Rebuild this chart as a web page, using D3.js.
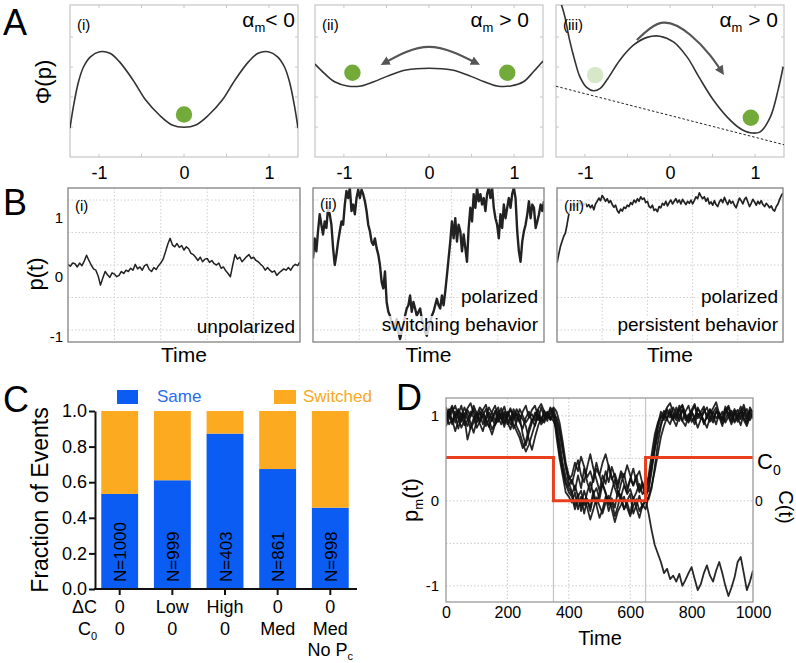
<!DOCTYPE html>
<html>
<head>
<meta charset="utf-8">
<script src="https://cdn.jsdelivr.net/npm/d3@7/dist/d3.min.js"></script>
<style>
html,body{margin:0;padding:0;background:#fff;}
svg{display:block;}
svg text{font-family:"Liberation Sans",Arial,Helvetica,sans-serif;}
</style>
</head>
<body>
<svg id="fig" width="796" height="663" viewBox="0 0 796 663"></svg>
<script>
// ================= DATA =================
// Panel A : potential landscapes  [p, phi]
const potentialI = [[-1.34,0.96],[-1.30,1.68],[-1.24,2.51],[-1.18,3.01],[-1.10,3.34],[-0.99,3.51],[-0.87,3.46],[-0.76,3.18],[-0.60,2.57],[-0.45,1.90],[-0.29,1.40],[-0.14,1.07],[0,0.99],[0.14,1.07],[0.29,1.40],[0.45,1.90],[0.60,2.57],[0.76,3.18],[0.87,3.46],[0.99,3.51],[1.10,3.34],[1.18,3.01],[1.24,2.51],[1.30,1.68],[1.34,0.96]];
const potentialII = [[-1.34,3.10],[-1.23,2.79],[-1.11,2.51],[-0.96,2.37],[-0.80,2.37],[-0.65,2.51],[-0.46,2.73],[-0.27,2.90],[0,2.96],[0.27,2.90],[0.46,2.73],[0.65,2.51],[0.80,2.37],[0.96,2.37],[1.11,2.51],[1.23,2.85],[1.34,3.20]];
const potentialIII = [[-1.29,5.20],[-1.24,4.73],[-1.18,3.90],[-1.12,3.23],[-1.06,2.68],[-0.98,2.32],[-0.90,2.21],[-0.82,2.29],[-0.73,2.62],[-0.59,3.23],[-0.43,3.73],[-0.27,3.99],[-0.12,4.03],[0.04,3.84],[0.20,3.34],[0.35,2.62],[0.51,1.90],[0.67,1.34],[0.82,0.96],[0.94,0.81],[1.06,0.84],[1.18,1.34],[1.27,2.23],[1.33,3.01]];
const tiltIII = [[-1.34,2.36],[1.34,0.41]];
const ballsI = [[0,1.42,"now"]];
const ballsII = [[-0.90,2.81,"now"],[0.92,2.81,"now"]];
const ballsIII = [[-0.88,2.73,"past"],[0.95,1.31,"now"]];
const arrowII = [[-0.53,3.13],[0,3.67],[0.56,3.13]];
const arrowIII = [[-0.39,3.90],[-0.08,4.48],[0.24,4.07],[0.47,3.40],[0.61,2.84]];
const aTickValues = [-1,0,1];

// Panel B : p(t) traces (uniform time steps)
const traceUnpolarized = [0.01,-0.02,0.03,0.02,-0.03,0.03,-0.01,0.06,0.15,0.07,0.00,-0.06,-0.08,-0.17,-0.31,-0.20,-0.10,-0.15,-0.19,-0.12,-0.14,-0.18,-0.16,-0.10,-0.13,-0.08,-0.10,-0.05,-0.08,0.01,-0.06,-0.03,-0.08,-0.01,0.01,-0.07,-0.10,-0.04,-0.07,-0.01,0.03,0.09,0.20,0.32,0.41,0.31,0.28,0.33,0.27,0.30,0.23,0.28,0.25,0.18,0.16,0.12,0.07,0.12,0.05,0.09,0.10,0.04,0.07,0.02,0.00,0.03,-0.05,-0.03,-0.09,-0.13,-0.18,0.00,0.16,0.09,0.12,0.05,0.09,0.13,0.16,0.10,0.12,0.07,0.05,0.01,-0.02,-0.08,-0.04,-0.08,-0.11,-0.09,-0.16,-0.12,-0.09,-0.06,-0.08,-0.04,-0.08,-0.02,0.01,-0.01,0.05];
const traceSwitching = [0.10,0.41,0.21,0.52,0.78,0.62,0.47,0.67,0.57,0.88,0.78,0.62,0.26,0.00,0.16,0.36,0.52,0.67,0.62,0.93,1.14,1.03,1.19,0.83,0.93,0.78,1.03,1.16,1.03,1.16,1.09,0.98,0.83,0.62,0.52,0.36,0.31,0.41,0.26,0.16,0.00,-0.26,-0.36,-0.10,-0.57,-0.72,-0.78,-0.88,-0.98,-0.91,-0.83,-1.03,-1.14,-1.03,-0.93,-0.78,-0.67,-0.62,-0.47,-0.72,-0.57,-0.67,-0.78,-0.72,-0.67,-0.83,-0.93,-1.03,-1.09,-0.98,-0.88,-0.78,-0.72,-0.62,-0.52,-0.62,-0.67,-0.47,-0.62,-0.41,-0.16,0.10,0.36,0.67,0.41,0.72,0.36,0.62,0.52,0.21,0.47,0.26,0.05,0.57,0.88,0.67,1.09,0.88,1.19,0.98,1.09,0.93,1.03,0.83,1.09,1.19,1.03,1.19,0.88,0.72,0.62,0.41,0.78,0.57,0.93,0.72,0.88,1.03,0.88,1.09,1.19,1.03,0.52,0.21,0.05,0.36,0.52,0.62,0.78,0.98,0.72,0.93,0.88,0.57,0.67,0.78,0.93,0.83,0.98];
const tracePersistent = [0.03,0.16,0.28,0.36,0.44,0.49,0.62,0.77,0.88,0.92,0.96,0.90,0.94,0.98,0.93,0.97,0.92,0.95,0.90,0.93,0.88,0.92,0.85,0.94,0.98,1.03,0.99,1.07,1.03,0.98,1.02,0.96,0.99,0.93,0.89,0.92,0.84,0.80,0.86,0.83,0.89,0.87,0.92,0.90,0.96,0.93,1.00,0.96,1.02,0.98,1.05,1.01,1.03,0.96,0.98,0.90,0.88,0.92,0.84,0.86,0.82,0.90,0.88,0.95,0.92,0.98,0.91,0.96,1.00,0.94,0.98,1.02,0.96,1.00,0.94,1.01,0.97,0.93,0.98,0.95,1.00,0.94,0.99,1.05,1.02,1.11,1.06,1.02,1.05,0.98,1.03,0.94,0.97,0.92,0.99,0.93,0.90,0.97,1.01,0.96,1.04,0.98,0.93,1.00,0.95,0.98,0.92,0.88,0.96,1.03,0.99,0.94,1.01,1.04,0.97,0.90,0.95,1.01,0.97,0.92,0.98,0.94,0.99,0.93,0.90,0.95,0.92,0.88,0.91,0.85,0.83,0.90,0.94,1.01,1.07,1.11];
const bTickValues = [1,0,-1];
const bGridValues = [-1,-0.5,0,0.5,1];

// Panel C : stacked fractions
const cCategories = ["c1","c2","c3","c4","c5"];
const cSame = [0.534,0.611,0.873,0.674,0.457];
const cSwitched = [0.466,0.389,0.127,0.326,0.543];
const cN = [1000,999,403,861,998];
const cDeltaC = ["0","Low","High","0","0"];
const cC0 = ["0","0","0","Med","Med"];
const cExtra = ["","","","","No P"];
const cTickValues = [0,0.2,0.4,0.6,0.8,1.0];

// Panel D : p_m(t) traces sampled every 10 time units, C(t) step signal
const dTimes = d3.range(0,1001,10);
const dTraces = [
 [1.05,0.98,1.10,0.92,1.02,1.12,0.95,0.88,1.00,1.08,0.97,1.04,0.90,0.99,1.10,1.03,0.94,1.06,0.98,0.87,1.01,1.09,0.96,1.03,0.92,0.85,0.98,1.05,0.93,1.00,1.07,0.96,1.02,0.94,1.08,1.00,0.82,0.55,0.35,0.22,0.15,0.08,0.18,0.05,0.12,-0.05,0.10,0.22,0.08,0.15,0.02,0.20,0.10,-0.02,0.12,0.25,0.10,0.05,0.18,0.08,0.14,0.02,0.10,0.20,0.08,0.12,0.30,0.55,0.78,0.92,1.00,0.95,1.05,0.98,1.10,1.02,0.94,1.08,1.00,0.92,1.04,1.12,0.97,1.03,0.90,1.01,1.08,0.95,1.05,0.99,0.88,1.02,1.10,0.96,1.04,0.93,1.00,1.09,0.97,1.05,1.00],
 [0.95,1.08,0.90,1.02,0.85,0.97,1.10,1.01,0.92,0.80,0.94,1.06,0.99,0.88,0.96,1.05,1.12,0.98,0.90,1.03,0.93,0.84,0.97,1.08,1.00,0.78,0.65,0.80,0.92,1.04,0.95,1.10,0.98,1.05,0.96,1.02,0.90,0.70,0.45,0.28,0.18,0.25,0.12,0.30,0.15,0.38,0.22,0.10,0.28,0.45,0.30,0.18,0.35,0.22,0.40,0.28,0.15,0.32,0.20,0.10,0.26,0.18,0.30,0.12,0.22,0.08,0.12,0.35,0.62,0.85,0.98,1.06,0.95,1.08,0.96,1.02,1.12,0.94,0.88,1.00,1.06,0.95,1.10,1.02,0.92,0.98,1.07,1.00,0.90,1.04,0.96,1.11,1.01,0.93,1.06,0.98,0.89,1.03,1.08,0.95,1.02],
 [1.10,1.00,0.93,1.05,0.98,0.86,0.95,1.07,0.99,1.12,1.03,0.91,0.82,0.95,1.04,0.97,0.89,1.00,1.09,0.96,1.05,0.99,0.90,0.82,0.74,0.62,0.70,0.85,0.96,0.88,1.02,0.94,1.06,0.99,1.10,1.04,0.75,0.50,0.30,0.10,0.05,-0.02,0.10,-0.10,0.05,-0.15,0.02,-0.08,0.12,-0.05,-0.20,-0.10,0.05,-0.12,0.00,-0.18,-0.06,0.08,-0.10,-0.02,-0.15,0.04,-0.08,-0.20,-0.05,0.00,0.20,0.40,0.60,0.78,0.90,1.02,0.96,0.90,1.02,0.95,1.06,1.12,0.99,0.93,1.05,0.97,0.86,0.96,1.04,1.10,0.98,0.92,1.06,1.01,0.95,1.08,0.99,0.90,1.02,1.07,0.96,1.04,0.93,1.10,1.03],
 [0.88,0.97,1.05,1.12,1.00,0.93,1.03,0.96,0.85,0.92,1.01,1.10,1.05,0.95,0.87,0.98,1.06,0.93,1.02,1.11,0.97,0.90,1.04,0.95,1.08,1.00,0.92,0.98,1.07,1.12,0.99,0.90,0.95,1.03,0.97,1.08,0.95,0.80,0.60,0.40,0.25,0.30,0.45,0.35,0.52,0.40,0.28,0.35,0.22,0.38,0.30,0.45,0.55,0.40,0.25,0.32,0.20,0.35,0.28,0.42,0.30,0.18,0.28,0.35,0.20,0.15,0.25,0.45,0.70,0.90,1.05,0.98,1.08,1.02,0.95,1.10,1.00,0.94,1.05,1.12,0.98,0.90,1.03,0.96,1.08,1.00,0.93,1.04,1.10,0.97,1.05,0.92,0.99,1.06,0.94,1.02,1.11,0.98,0.91,1.04,0.97],
 [1.02,0.90,0.96,0.82,0.94,1.03,0.98,0.72,0.86,0.97,1.04,0.93,1.00,1.08,0.95,0.84,0.92,1.02,0.96,1.05,0.90,0.98,0.85,0.93,1.01,0.96,0.88,0.72,0.60,0.75,0.88,0.98,0.92,1.01,0.95,1.00,0.98,0.85,0.62,0.40,0.22,0.10,-0.05,0.08,-0.12,0.02,-0.08,-0.22,-0.10,0.04,-0.06,-0.15,-0.02,0.06,-0.10,-0.25,-0.12,-0.05,0.05,-0.08,-0.18,-0.06,0.02,-0.12,-0.04,-0.10,0.05,0.18,0.35,0.55,0.75,0.88,0.98,1.05,0.96,0.88,1.00,1.07,0.95,1.02,0.93,0.99,1.08,1.03,0.94,0.86,0.98,1.05,0.97,1.02,0.91,0.96,1.04,1.00,0.92,0.98,1.06,0.95,0.88,0.99,1.03],
 [0.93,1.04,1.12,0.99,1.06,0.95,1.01,1.09,1.15,1.03,0.92,0.98,1.07,1.13,1.00,0.94,1.04,1.10,0.97,0.91,1.03,0.95,1.08,1.01,0.93,1.05,1.12,0.98,1.02,0.94,1.08,1.14,1.05,0.98,1.02,1.10,1.05,0.92,0.70,0.45,0.30,0.20,0.35,0.48,0.30,0.22,0.40,0.55,0.38,0.25,0.12,0.30,0.20,0.42,0.28,0.15,0.05,0.20,0.32,0.15,0.25,0.38,0.22,0.10,0.18,0.05,0.02,0.15,0.40,0.68,0.88,1.02,1.10,1.15,1.04,0.98,1.08,1.13,1.02,0.96,1.07,1.14,1.00,1.05,1.11,0.97,1.03,1.09,1.16,1.02,0.95,1.06,1.12,1.01,1.08,0.98,1.04,1.13,1.00,1.07,1.05],
 [1.00,1.06,0.94,0.99,1.08,1.01,0.89,0.95,1.05,0.98,0.86,0.93,1.02,0.97,0.88,0.78,0.90,0.95,1.03,0.92,0.99,1.07,1.01,0.88,0.80,0.68,0.58,0.66,0.78,0.90,1.00,0.93,0.97,1.04,0.98,0.94,0.85,0.62,0.38,0.20,0.10,0.05,-0.10,0.02,-0.06,0.12,0.00,-0.12,0.06,-0.04,0.10,0.20,0.08,-0.05,0.03,-0.08,0.12,0.02,-0.10,0.00,0.08,-0.15,-0.05,0.06,-0.08,0.02,-0.15,-0.35,-0.52,-0.62,-0.72,-0.85,-0.80,-0.92,-0.88,-0.95,-0.86,-1.00,-0.93,-0.85,-0.78,-0.92,-1.05,-0.98,-0.85,-0.76,-0.88,-0.95,-0.82,-0.72,-0.85,-1.00,-1.12,-1.02,-0.90,-0.72,-0.66,-0.85,-1.05,-0.95,-0.82]
];
const cTimes = [0,350,650,1000];
const cLevels = [0.51,0,0.51,0.51];
const dXTicks = [0,200,400,600,800,1000];
const dYTicks = [-1,0,1];
const dGridY = [-1,-0.5,0,0.5,1];
const dGridX = [200,400,600,800];

// ================= DRAWING =================
const svg = d3.select("#fig");
const defs = svg.append("defs");
defs.append("marker").attr("id","ah").attr("viewBox","0 0 10 10").attr("refX",6).attr("refY",5)
  .attr("markerWidth",4.2).attr("markerHeight",4.2).attr("orient","auto-start-reverse")
  .append("path").attr("d","M0,0L10,5L0,10Z").attr("fill","#555");

function clip(id,x,y,w,h){
  defs.append("clipPath").attr("id",id).append("rect").attr("x",x).attr("y",y).attr("width",w).attr("height",h);
  return "url(#"+id+")";
}
function textBg(g, textSel, pad){
  const b = textSel.node().getBBox();
  g.insert("rect", function(){ return textSel.node(); })
    .attr("x",b.x-pad).attr("y",b.y+2).attr("width",b.width+2*pad).attr("height",b.height-2)
    .attr("fill","#fff").attr("fill-opacity",0.78);
}

// panel letters
svg.append("text").attr("x",3).attr("y",35).attr("font-size",36).text("A");
svg.append("text").attr("x",3).attr("y",215).attr("font-size",36).text("B");
svg.append("text").attr("x",3).attr("y",412).attr("font-size",36).text("C");
svg.append("text").attr("x",396).attr("y",410).attr("font-size",36).text("D");

// ---------- Panel A ----------
const aTop = 5, aBot = 157, aW = 228;
const aY = d3.scaleLinear().domain([0,5.07]).range([aBot,aTop]);
const ballColor = {now:"#72ab3a", past:"#d6e8c8"};
const aPanels = [
  {x0:70,  curve:potentialI,   balls:ballsI,   roman:"(i)",   rel:"< 0",        relX:295},
  {x0:315, curve:potentialII,  balls:ballsII,  roman:"(ii)",  rel:"\u00a0> 0",  relX:529, arrow:arrowII, both:true},
  {x0:556, curve:potentialIII, balls:ballsIII, roman:"(iii)", rel:"\u00a0> 0",  relX:778, arrow:arrowIII, dash:tiltIII}
];
aPanels.forEach((p,i)=>{
  const x = d3.scaleLinear().domain([-1.34,1.34]).range([p.x0,p.x0+aW]);
  const g = svg.append("g");
  const cp = clip("ca"+i, p.x0, aTop, aW, aBot-aTop);
  [-1,-0.5,0,0.5,1].forEach(v=>{
    g.append("line").attr("x1",x(v)).attr("x2",x(v)).attr("y1",aBot).attr("y2",aBot-3).attr("stroke","#c8c8c8");
    g.append("line").attr("x1",x(v)).attr("x2",x(v)).attr("y1",aTop).attr("y2",aTop+3).attr("stroke","#c8c8c8");
  });
  [1,2,3,4].forEach(v=>{
    g.append("line").attr("x1",p.x0).attr("x2",p.x0+3).attr("y1",aY(v)).attr("y2",aY(v)).attr("stroke","#c8c8c8");
    g.append("line").attr("x1",p.x0+aW).attr("x2",p.x0+aW-3).attr("y1",aY(v)).attr("y2",aY(v)).attr("stroke","#c8c8c8");
  });
  g.append("rect").attr("x",p.x0).attr("y",aTop).attr("width",aW).attr("height",aBot-aTop)
    .attr("fill","none").attr("stroke","#c6c6c6").attr("stroke-width",1.2);
  const lineGen = d3.line().x(d=>x(d[0])).y(d=>aY(d[1]));
  if(p.dash){
    g.append("path").datum(p.dash).attr("d",lineGen).attr("fill","none").attr("stroke","#222")
      .attr("stroke-width",1).attr("stroke-dasharray","2.5,2").attr("clip-path",cp);
  }
  g.append("path").datum(p.curve).attr("d",lineGen.curve(d3.curveCatmullRom.alpha(0.5)))
    .attr("fill","none").attr("stroke","#333").attr("stroke-width",1.6).attr("clip-path",cp);
  g.selectAll("circle.ball").data(p.balls).join("circle").attr("class","ball")
    .attr("cx",d=>x(d[0])).attr("cy",d=>aY(d[1])).attr("r",8.2).attr("fill",d=>ballColor[d[2]]);
  if(p.arrow){
    const arr = g.append("path").datum(p.arrow)
      .attr("d", d3.line().x(d=>x(d[0])).y(d=>aY(d[1])).curve(d3.curveNatural))
      .attr("fill","none").attr("stroke","#555").attr("stroke-width",2.2).attr("marker-end","url(#ah)");
    if(p.both) arr.attr("marker-start","url(#ah)");
  }
  g.append("text").attr("x",p.x0+7).attr("y",30).attr("font-size",15).text(p.roman);
  const t = g.append("text").attr("x",p.relX).attr("y",27).attr("text-anchor","end").attr("font-size",21);
  t.append("tspan").text("\u03b1");
  t.append("tspan").attr("font-size",13).attr("dy",5).text("m");
  t.append("tspan").attr("dy",-5).text(p.rel);
  const ax = g.append("g").attr("transform","translate(0,"+aBot+")")
    .call(d3.axisBottom(x).tickValues(aTickValues).tickSize(0).tickPadding(9).tickFormat(d=>String(d)));
  ax.select(".domain").remove();
  ax.attr("font-size",18);
});
svg.append("text").attr("transform","translate(51,82) rotate(-90)").attr("text-anchor","middle")
  .attr("font-size",22).text("\u03a6(p)");

// ---------- Panel B ----------
const bTop = 188, bBot = 342;
const bY = d3.scaleLinear().domain([-1.185,1.185]).range([bBot,bTop]);
const bPanels = [
  {x0:68,  x1:300, data:traceUnpolarized, roman:"(i)",   notes:["unpolarized"],                  noteX:295, sw:1.5},
  {x0:313, x1:544, data:traceSwitching,   roman:"(ii)",  notes:["polarized","switching behavior"],noteX:538, sw:2.4},
  {x0:557, x1:783, data:tracePersistent,  roman:"(iii)", notes:["polarized","persistent behavior"],noteX:778, sw:1.7}
];
bPanels.forEach((p,i)=>{
  const x = d3.scaleLinear().domain([0,p.data.length-1]).range([p.x0,p.x1]);
  const g = svg.append("g");
  const cp = clip("cb"+i, p.x0, bTop, p.x1-p.x0, bBot-bTop);
  const n = p.data.length-1;
  [1,2,3,4].forEach(k=>{
    g.append("line").attr("x1",x(n*k/5)).attr("x2",x(n*k/5)).attr("y1",bTop).attr("y2",bBot)
      .attr("stroke","#cfcfcf").attr("stroke-dasharray","1.5,2");
  });
  bGridValues.forEach(v=>{
    g.append("line").attr("x1",p.x0).attr("x2",p.x1).attr("y1",bY(v)).attr("y2",bY(v))
      .attr("stroke","#cfcfcf").attr("stroke-dasharray","1.5,2");
  });
  g.append("path").datum(p.data).attr("d",d3.line().x((d,j)=>x(j)).y(d=>bY(d)))
    .attr("fill","none").attr("stroke","#222").attr("stroke-width",p.sw).attr("stroke-linejoin","round")
    .attr("clip-path",cp);
  const r = g.append("text").attr("x",p.x0+7).attr("y",i===1?209:211).attr("font-size",15).text(p.roman);
  if(i>0) textBg(g, r, 2);
  const baselines = p.notes.length===1 ? [333] : [303,331];
  p.notes.forEach((s,k)=>{
    const tt = g.append("text").attr("x",p.noteX).attr("y",baselines[k]).attr("text-anchor","end")
      .attr("font-size",19).text(s);
    if(i>0) textBg(g, tt, 3);
  });
  g.append("rect").attr("x",p.x0).attr("y",bTop).attr("width",p.x1-p.x0).attr("height",bBot-bTop)
    .attr("fill","none").attr("stroke","#8a8a8a").attr("stroke-width",1.4);
  g.append("text").attr("x",(p.x0+p.x1)/2).attr("y",362).attr("text-anchor","middle").attr("font-size",21).text("Time");
});
// B y tick labels (reference draws them slightly below the grid lines)
const bLabelNudge = {"1":23, "0":17, "-1":12};
bTickValues.forEach(v=>{
  svg.append("text").attr("x",63).attr("y",bY(v)+bLabelNudge[String(v)]).attr("text-anchor","end")
    .attr("font-size",15).text(String(v));
});
svg.append("text").attr("transform","translate(43,274) rotate(-90)").attr("text-anchor","middle")
  .attr("font-size",22).text("p(t)");

// ---------- Panel C ----------
const cBlue = "#0b5cf2", cOrange = "#fcaa1f";
const cX = d3.scaleBand().domain(cCategories).range([96,354]).paddingInner(0.3).paddingOuter(0.1);
const cY = d3.scaleLinear().domain([0,1]).range([589,411]);
const cRows = cCategories.map((c,i)=>({cat:c, same:cSame[i], switched:cSwitched[i]}));
const stack = d3.stack().keys(["same","switched"])(cRows);
const cg = svg.append("g");
cg.selectAll("g.layer").data(stack).join("g").attr("class","layer")
  .attr("fill",(d,i)=> i===0?cBlue:cOrange)
  .selectAll("rect").data(d=>d).join("rect")
  .attr("x",d=>cX(d.data.cat)).attr("width",cX.bandwidth())
  .attr("y",d=>cY(d[1])).attr("height",d=>cY(d[0])-cY(d[1]));
cCategories.forEach((c,i)=>{
  const cx = cX(c)+cX.bandwidth()/2;
  cg.append("text").attr("transform","translate("+(cx+6.5)+",582) rotate(-90)")
    .attr("font-size",17).text("N="+cN[i]);
});
const cyAxis = cg.append("g").attr("transform","translate(95,0)")
  .call(d3.axisLeft(cY).tickValues(cTickValues).tickSize(6).tickSizeOuter(0).tickPadding(2).tickFormat(d3.format(".1f")));
cyAxis.attr("font-size",18);
cyAxis.selectAll("path,line").attr("stroke","#111").attr("stroke-width",2);
cg.append("line").attr("x1",94).attr("x2",357).attr("y1",589).attr("y2",589).attr("stroke","#111").attr("stroke-width",2);
cCategories.forEach((c,i)=>{
  const cx = cX(c)+cX.bandwidth()/2;
  cg.append("line").attr("x1",cx).attr("x2",cx).attr("y1",589).attr("y2",595).attr("stroke","#111").attr("stroke-width",2);
  cg.append("text").attr("x",cx).attr("y",613).attr("text-anchor","middle").attr("font-size",18).text(cDeltaC[i]);
  cg.append("text").attr("x",cx).attr("y",635).attr("text-anchor","middle").attr("font-size",18).text(cC0[i]);
  if(cExtra[i]){
    const e = cg.append("text").attr("x",cx).attr("y",656).attr("text-anchor","middle").attr("font-size",18);
    e.append("tspan").text(cExtra[i]);
    e.append("tspan").attr("font-size",11).attr("dy",4).text("c");
  }
});
cg.append("text").attr("x",97).attr("y",613).attr("text-anchor","end").attr("font-size",18).text("\u0394C");
const c0lab = cg.append("text").attr("x",97).attr("y",635).attr("text-anchor","end").attr("font-size",18);
c0lab.append("tspan").text("C");
c0lab.append("tspan").attr("font-size",11).attr("dy",5).text("0");
cg.append("text").attr("transform","translate(48,500) rotate(-90)").attr("text-anchor","middle")
  .attr("font-size",23).text("Fraction of Events");
cg.append("rect").attr("x",117).attr("y",390).attr("width",21).attr("height",14).attr("fill",cBlue);
cg.append("text").attr("x",157).attr("y",402).attr("font-size",17).attr("fill","#2a6cf0").text("Same");
cg.append("rect").attr("x",274).attr("y",390).attr("width",22).attr("height",14).attr("fill",cOrange);
cg.append("text").attr("x",303).attr("y",402).attr("font-size",17).attr("fill","#f9a823").text("Switched");

// ---------- Panel D ----------
const dL = 446, dR = 753, dT = 398, dB = 602;
const dX = d3.scaleLinear().domain([0,1000]).range([dL,dR]);
const dY = d3.scaleLinear().domain([-1.19,1.21]).range([dB,dT]);
const dg = svg.append("g");
const dcp = clip("cd", dL, dT, dR-dL, dB-dT);
dGridX.forEach(v=>{
  dg.append("line").attr("x1",dX(v)).attr("x2",dX(v)).attr("y1",dT).attr("y2",dB)
    .attr("stroke","#c8c8c8").attr("stroke-dasharray","1.5,2");
});
dGridY.forEach(v=>{
  dg.append("line").attr("x1",dL).attr("x2",dR).attr("y1",dY(v)).attr("y2",dY(v))
    .attr("stroke","#c8c8c8").attr("stroke-dasharray","1.5,2");
});
[cTimes[1],cTimes[2]].forEach(v=>{
  dg.append("line").attr("x1",dX(v)).attr("x2",dX(v)).attr("y1",dT).attr("y2",dB)
    .attr("stroke","#c4c4c4").attr("stroke-width",1.2);
});
const dLine = d3.line().x((d,j)=>dX(dTimes[j])).y(d=>dY(d));
dg.selectAll("path.trace").data(dTraces).join("path").attr("class","trace")
  .attr("d",dLine).attr("fill","none").attr("stroke","#111").attr("stroke-width",1.8)
  .attr("stroke-opacity",0.9).attr("stroke-linejoin","round").attr("clip-path",dcp);
const cPts = cTimes.map((t,i)=>[t,cLevels[i]]);
dg.append("path").datum(cPts)
  .attr("d", d3.line().x(d=>dX(d[0])).y(d=>dY(d[1])).curve(d3.curveStepAfter))
  .attr("fill","none").attr("stroke","#e8401f").attr("stroke-width",3);
dg.append("rect").attr("x",dL).attr("y",dT).attr("width",dR-dL).attr("height",dB-dT)
  .attr("fill","none").attr("stroke","#9a9a9a").attr("stroke-width",1.3);
const dxa = dg.append("g").attr("transform","translate(0,"+dB+")")
  .call(d3.axisBottom(dX).tickValues(dXTicks).tickSize(0).tickPadding(5).tickFormat(d=>String(d)));
dxa.select(".domain").remove(); dxa.attr("font-size",16);
const dya = dg.append("g").attr("transform","translate("+dL+",0)")
  .call(d3.axisLeft(dY).tickValues(dYTicks).tickSize(0).tickPadding(7).tickFormat(d=>String(d)));
dya.select(".domain").remove(); dya.attr("font-size",15);
dg.append("text").attr("x",600).attr("y",645).attr("text-anchor","middle").attr("font-size",20).text("Time");
const pm = dg.append("text").attr("transform","translate(418,500) rotate(-90)").attr("text-anchor","middle").attr("font-size",22);
pm.append("tspan").text("p");
pm.append("tspan").attr("font-size",13).attr("dy",5).text("m");
pm.append("tspan").attr("dy",-5).text("(t)");
const c0 = dg.append("text").attr("x",757).attr("y",dY(cLevels[0])+11).attr("font-size",22);
c0.append("tspan").text("C");
c0.append("tspan").attr("font-size",14).attr("dy",6).text("0");
dg.append("text").attr("x",755).attr("y",dY(0)+5).attr("font-size",14).text("0");
dg.append("text").attr("transform","translate(779,507) rotate(90)").attr("text-anchor","middle")
  .attr("font-size",20).text("C(t)");
</script>
</body>
</html>
